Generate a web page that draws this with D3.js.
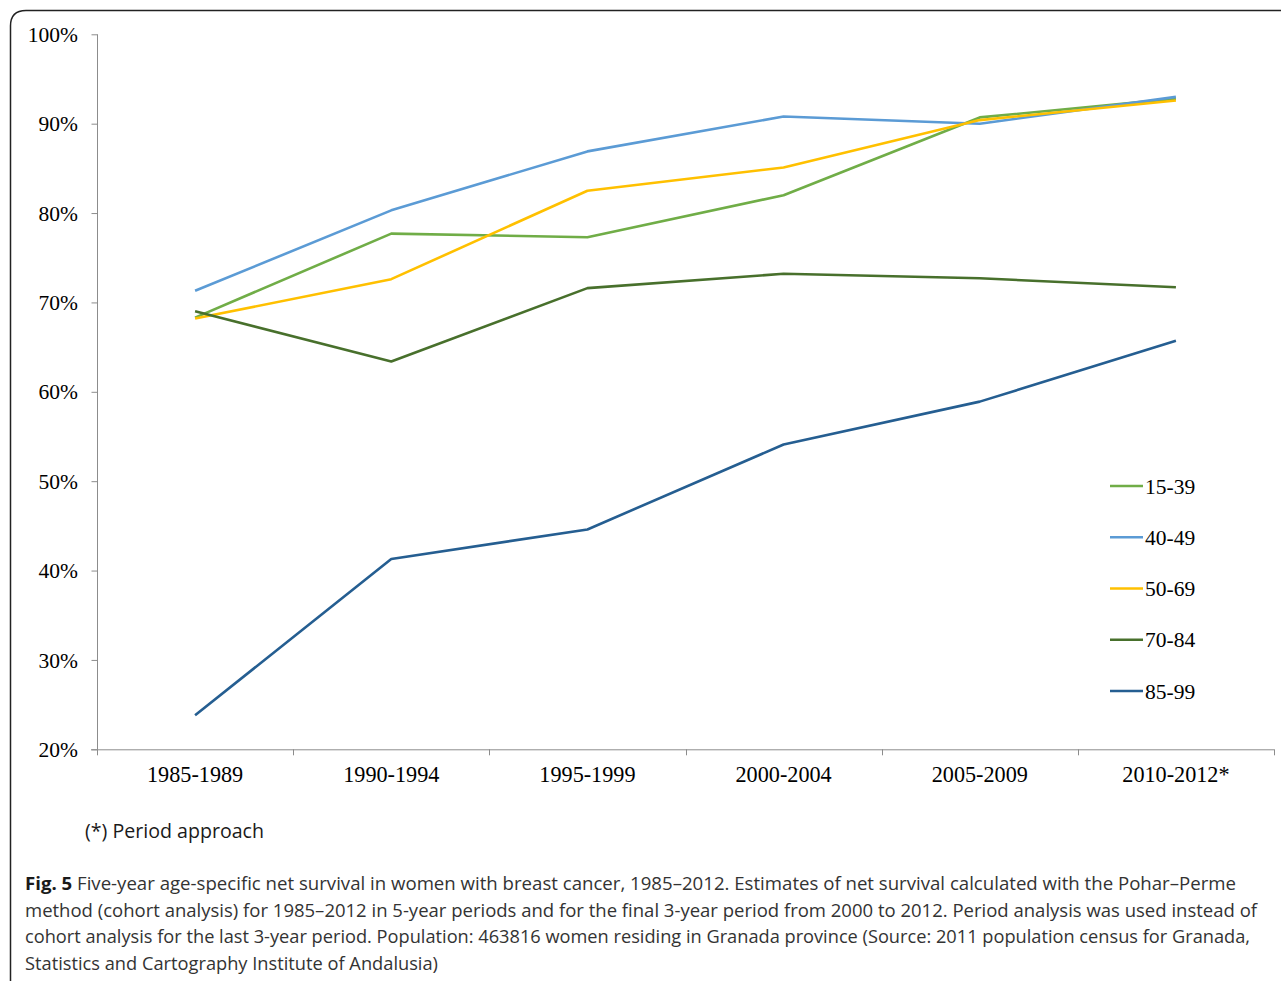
<!DOCTYPE html>
<html><head><meta charset="utf-8">
<script src="https://cdn.jsdelivr.net/npm/d3@7"></script>
<style>
html,body{margin:0;padding:0;background:#fff;}
svg{display:block;}
</style></head>
<body>
<svg id="chart" width="1281" height="981"></svg>
<script>
const categories = ["1985-1989","1990-1994","1995-1999","2000-2004","2005-2009","2010-2012*"];
const seriesNames = ["15-39","40-49","50-69","70-84","85-99"];
const seriesColors = ["#70AD47","#5B9BD5","#FFC000","#48702C","#255E91"];
const s15_39 = [68.3, 77.7, 77.3, 82.0, 90.7, 92.8];
const s40_49 = [71.3, 80.3, 86.9, 90.8, 90.0, 93.0];
const s50_69 = [68.2, 72.6, 82.5, 85.1, 90.4, 92.6];
const s70_84 = [69.0, 63.4, 71.6, 73.2, 72.7, 71.7];
const s85_99 = [23.8, 41.3, 44.6, 54.1, 58.9, 65.7];
const yTicks = [20,30,40,50,60,70,80,90,100];
const footnote = "(*) Period approach";
const captionBold = "Fig. 5";
const captionLines = [
 " Five-year age-specific net survival in women with breast cancer, 1985\u20132012. Estimates of net survival calculated with the Pohar\u2013Perme",
 "method (cohort analysis) for 1985\u20132012 in 5-year periods and for the final 3-year period from 2000 to 2012. Period analysis was used instead of",
 "cohort analysis for the last 3-year period. Population: 463816 women residing in Granada province (Source: 2011 population census for Granada,",
 "Statistics and Cartography Institute of Andalusia)"
];
const series = [s15_39, s40_49, s50_69, s70_84, s85_99];

const svg = d3.select("#chart");

// frame
svg.append("path")
  .attr("d","M 10.5 985 L 10.5 26 Q 10.5 10.5 26 10.5 L 1290 10.5")
  .attr("fill","none").attr("stroke","#222").attr("stroke-width",1.5);

const x = d3.scaleBand().domain(categories).range([97,1274]).padding(0);
const y = d3.scaleLinear().domain([20,100]).range([749.3,34.3]);

const serif = "'Liberation Serif','Times New Roman',serif";
const axisColor = "#8c8c8c";
// y axis
const ya = svg.append("g").attr("transform","translate(97,0)")
  .call(d3.axisLeft(y).tickValues(yTicks).tickSize(6).tickPadding(13).tickFormat(d=>d+"%"));
ya.select(".domain").attr("stroke",axisColor).attr("d","M0.5,"+y(100)+"V"+y(20));
ya.selectAll(".tick line").attr("stroke",axisColor).attr("transform","translate(0.5,0)");
ya.selectAll(".tick text").attr("font-family",serif)
  .attr("font-size",21.5).attr("fill","#000").attr("dy","0.33em");

// x axis
const xa = svg.append("g").attr("transform","translate(0,"+y(20)+")")
  .call(d3.axisBottom(x).tickSize(0).tickPadding(17));
xa.select(".domain").attr("stroke",axisColor).attr("d","M91,0.5H1274");
xa.selectAll(".tick text").attr("font-family",serif)
  .attr("font-size",22.2).attr("fill","#000");
// category boundary ticks
const bounds = categories.map(c=>x(c)).concat([x(categories[categories.length-1])+x.bandwidth()]);
svg.append("g").selectAll("line").data(bounds).join("line")
  .attr("x1",d=>Math.round(d)+0.5).attr("x2",d=>Math.round(d)+0.5)
  .attr("y1",y(20)).attr("y2",y(20)+6)
  .attr("stroke",axisColor);

// lines
const line = d3.line().x((d,i)=>x(categories[i])+x.bandwidth()/2).y(d=>y(d));
svg.append("g").selectAll("path").data(series).join("path")
  .attr("d",line).attr("fill","none")
  .attr("stroke",(d,i)=>seriesColors[i]).attr("stroke-width",2.6)
  .attr("stroke-linejoin","round");

// legend
const lg = svg.append("g");
const legY = d3.scalePoint().domain(seriesNames).range([486,691]);
seriesNames.forEach((n,i)=>{
  lg.append("line").attr("x1",1110).attr("x2",1143).attr("y1",legY(n)).attr("y2",legY(n))
    .attr("stroke",seriesColors[i]).attr("stroke-width",2.6);
  lg.append("text").attr("x",1145).attr("y",legY(n)).attr("dy","0.35em")
    .attr("font-family",serif).attr("font-size",21.5)
    .attr("fill","#000").text(n);
});

// footnote
svg.append("text").attr("x",85).attr("y",838)
  .attr("font-family","'Open Sans',sans-serif").attr("font-size",19.6).attr("font-weight",500).attr("fill","#1a1a1a")
  .text(footnote);

// caption
const cap = svg.append("g").attr("font-family","'Open Sans',sans-serif").attr("font-size",18.2).attr("fill","#333");
const ys = [890, 916.5, 943, 969.5];
const ends = [1236, 1257, 1250, 438];
captionLines.forEach((t,i)=>{
  const tx = cap.append("text").attr("x",25).attr("y",ys[i])
    .attr("textLength", ends[i]-25).attr("lengthAdjust","spacingAndGlyphs");
  if(i===0){
    tx.append("tspan").attr("font-weight","bold").attr("fill","#1a1a1a").text(captionBold);
  }
  tx.append("tspan").text(t);
});
</script>
</body></html>
